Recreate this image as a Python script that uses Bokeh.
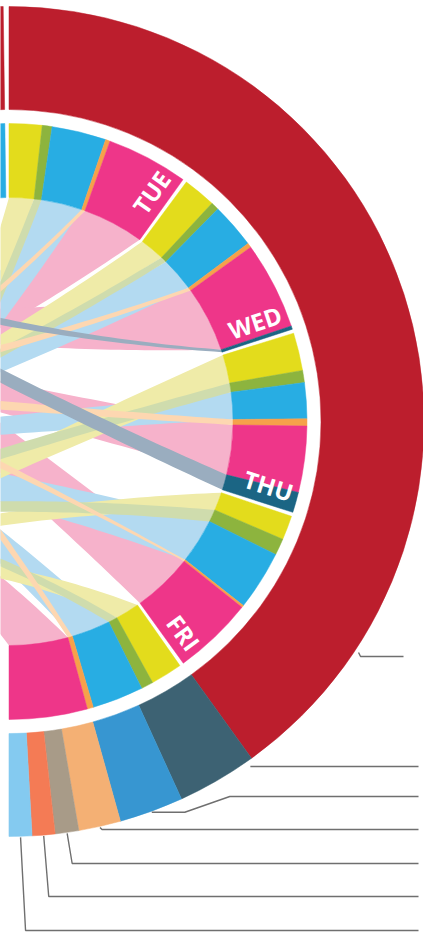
import numpy as np
from bokeh.plotting import figure
from bokeh.models import Range1d, ColumnDataSource
from bokeh.embed import file_html
from bokeh.resources import INLINE
from bokeh.core.properties import value

# ---------------- data ----------------
days = ["MON", "TUE", "WED", "THU", "FRI", "SAT"]
categories = ["Sleep", "Meals", "Work", "Travel", "Leisure", "Other"]

# hours per category for each day (order of categories above)
mon_hours = [0.00, 0.00, 8.00, 0.00, 0.00, 0.00]   # only its tail is in view
tue_hours = [4.35, 1.30, 7.20, 0.60, 10.80, 0.00]
wed_hours = [4.35, 1.05, 6.00, 0.60, 11.60, 0.45]
thu_hours = [5.00, 1.60, 4.75, 0.95, 8.75, 2.70]
fri_hours = [3.20, 2.20, 7.90, 0.30, 10.60, 0.00]
sat_hours = [4.20, 1.60, 6.80, 0.80, 10.35, 0.00]

# where each ribbon lands on the (hidden) left half, degrees (0 = none drawn)
mon_target = [0, 0, 0, 0, 0, 0]
tue_target = [231, 228, 211, 186, 181, 0]
wed_target = [189, 189, 187, 174, 151, 141]
thu_target = [216, 205, 186, 171, 160, 143]
fri_target = [216, 205, 186, 166, 148, 0]
sat_target = [218, 201, 172, 149, 187, 0]

outer_groups = ["Monday", "Weekdays", "Group B", "Group C", "Group D", "Group E", "Group F", "Group G"]
outer_hours = [8.0, 97.9, 7.6, 6.1, 4.0, 2.24, 2.17, 2.17]

# ---------------- style / layout ----------------
seg_colors = ["#e3dc1c", "#8db43e", "#28ade3", "#f6a14a", "#ee3689", "#1b6584"]
rib_colors = ["#efeba8", "#cfdcad", "#b3daf1", "#fdd7b1", "#f6b2cb", "#9aadbf"]
outer_colors = ["#bc1e2d", "#bc1e2d", "#3d6273", "#3796d1", "#f4b074", "#a89b88", "#f47b55", "#84caf0"]

DEG_PER_HOUR = 1.4733
DAY_GAP = 0.8
R_RIB = 224.0
R_SEG_OUT = 298.0
R_OUT_IN = 312.0
R_OUT_OUT = 415.0
CURVE = 0.8        # bezier control point factor (1 = straight)
TARGET_W = 0.4     # target arc width relative to source
MIN_TARGET = 3.4   # narrowest target arc, degrees
START = 90.0 + DAY_GAP + sum(mon_hours) * DEG_PER_HOUR
LABELLED = [True, True, True, True, True, False]

W, H = 423, 938
p = figure(width=W, height=H, output_backend="svg", toolbar_location=None,
           x_range=Range1d(-8.5, W - 8.5), y_range=Range1d(421 - H, 421),
           min_border=0, x_axis_type=None, y_axis_type=None)
p.grid.visible = False
p.outline_line_color = None
p.background_fill_color = "white"
p.border_fill_color = "white"

day_hours = [mon_hours, tue_hours, wed_hours, thu_hours, fri_hours, sat_hours]
day_targets = [mon_target, tue_target, wed_target, thu_target, fri_target, sat_target]


def arc_pts(a_from, a_to, r, n=40):
    ang = np.radians(np.linspace(a_from, a_to, n))
    return np.c_[r * np.cos(ang), r * np.sin(ang)]


def pt(a, r):
    return np.array([r * np.cos(np.radians(a)), r * np.sin(np.radians(a))])


def bez(P, Q, n=50):
    K = CURVE * (P + Q) / 2.0
    t = np.linspace(0, 1, n)[:, None]
    return (1 - t) ** 2 * P + 2 * (1 - t) * t * K + t ** 2 * Q


# ---------------- segments + ribbons ----------------
seg = dict(start=[], end=[], color=[])
ribbons = []
labels = dict(x=[], y=[], angle=[], text=[])
draw_order = [4, 2, 0, 1, 3, 5]

angle = START
for d, day in enumerate(days):
    for c, h in enumerate(day_hours[d]):
        if h <= 0:
            continue
        a_hi = angle
        a_lo = angle - h * DEG_PER_HOUR
        seg["start"].append(np.radians(a_lo))
        seg["end"].append(np.radians(a_hi))
        seg["color"].append(seg_colors[c])
        b = day_targets[d][c]
        if b:
            hw = max((a_hi - a_lo) * TARGET_W, MIN_TARGET) / 2.0
            ta, tb = b - hw, b + hw
            poly = np.vstack([
                arc_pts(a_lo, a_hi, R_RIB),
                bez(pt(a_hi, R_RIB), pt(ta, R_RIB)),
                arc_pts(ta, tb, R_RIB),
                bez(pt(tb, R_RIB), pt(a_lo, R_RIB)),
            ])
            ribbons.append((draw_order.index(c), list(poly[:, 0]), list(poly[:, 1]), rib_colors[c]))
        angle = a_lo
    if LABELLED[d]:
        la = angle + 0.35
        lp = pt(la, 292)
        labels["x"].append(lp[0])
        labels["y"].append(lp[1])
        labels["angle"].append(np.radians(la))
        labels["text"].append(day)
    angle -= DAY_GAP

ribbons.sort(key=lambda r: r[0])
p.patches(xs=[r[1] for r in ribbons], ys=[r[2] for r in ribbons],
          fill_color=[r[3] for r in ribbons], line_color=None)

p.annular_wedge(x=0, y=0, inner_radius=R_RIB, outer_radius=R_SEG_OUT,
                start_angle="start", end_angle="end", color="color",
                line_width=0.5, source=ColumnDataSource(seg))

p.text(x="x", y="y", angle="angle", text="text", source=ColumnDataSource(labels),
       text_color="white", text_font=value("Open Sans"), text_font_style="bold",
       text_font_size="24px", text_align="right", text_baseline="bottom")

# ---------------- outer ring ----------------
osrc = dict(start=[], end=[], color=[])
angle = START
outer_span = []
for i, h in enumerate(outer_hours):
    a_hi = angle
    a_lo = angle - h * DEG_PER_HOUR
    osrc["start"].append(np.radians(a_lo))
    osrc["end"].append(np.radians(a_hi))
    osrc["color"].append(outer_colors[i])
    outer_span.append((a_lo, a_hi))
    angle = a_lo - (DAY_GAP if i == 0 else 0.0)
p.annular_wedge(x=0, y=0, inner_radius=R_OUT_IN, outer_radius=R_OUT_OUT,
                start_angle="start", end_angle="end", color="color",
                line_width=0.5, source=ColumnDataSource(osrc))

# ---------------- leader lines (groups 1..7) ----------------
anchor_frac = [0.856, 0.07, 0.5, 0.5, 0.5, 0.5, 0.5]   # position inside each outer segment
anchor_gap = [4, 6, 1, 1, 1, 1, 1]
row_y = [-235, -345, -375, -408, -442, -475, -509]
x_end = [394.5, 409.5, 409.5, 409.5, 409.5, 409.5, 409.5]
lx, ly = [], []
for i, (a_lo, a_hi) in enumerate(outer_span[1:]):
    a = a_hi - (a_hi - a_lo) * anchor_frac[i]
    s = pt(a, R_OUT_OUT + anchor_gap[i])
    if i == 1:
        xs = [s[0], x_end[i]]
        ys = [row_y[i], row_y[i]]
    elif i == 2:
        xs = [s[0], s[0] + 33, s[0] + 78, x_end[i]]
        ys = [s[1], s[1], row_y[i], row_y[i]]
    else:
        xs = [s[0], s[0] + (2 if i in (0, 3) else 5), x_end[i]]
        ys = [s[1], row_y[i], row_y[i]]
    lx.append(xs)
    ly.append(ys)
p.multi_line(xs=lx, ys=ly, line_color="#6f6f6f", line_width=1.4)

open("out.html", "w").write(file_html(p, INLINE))
